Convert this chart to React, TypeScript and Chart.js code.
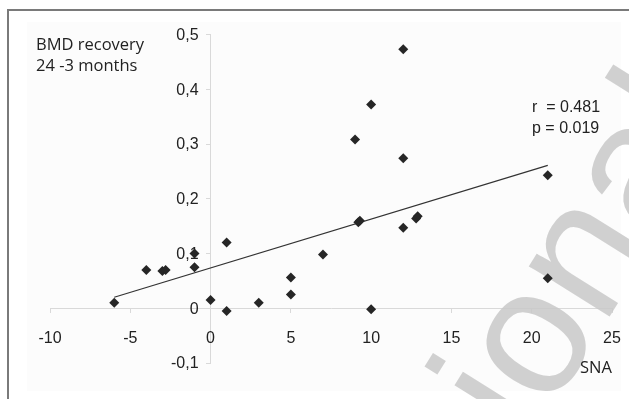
import React, { useEffect, useRef } from "react";
import { Chart, registerables } from "chart.js";

Chart.register(...registerables);

const snaValues = [-6, -4, -3, -2.8, -1, -1, 0, 1, 1, 3, 5, 5, 7, 9, 9.2, 9.3, 10, 10, 12, 12, 12, 12.8, 12.9, 21, 21];
const bmdValues = [0.01, 0.07, 0.068, 0.07, 0.1, 0.075, 0.015, -0.005, 0.12, 0.01, 0.056, 0.025, 0.098, 0.308, 0.157, 0.16, 0.372, -0.002, 0.473, 0.274, 0.147, 0.164, 0.168, 0.243, 0.055];
const trendX = [-6, 21];
const trendY = [0.02, 0.261];
const yTitleLines = ["BMD recovery", "24 -3 months"];
const xTitle = "SNA";
const statLines = ["r  = 0.481", "p = 0.019"];
const watermarkText = "Provisional";

const fmtY = (v: number) => (Math.abs(v) < 1e-9 ? "0" : Number(v).toFixed(1).replace(".", ","));
const fmtX = (v: number) => String(Math.round(v));

const decorPlugin = {
  id: "decor",
  beforeDraw(chart: any) {
    const ctx = chart.ctx;
    ctx.save();
    ctx.fillStyle = "#ffffff";
    ctx.fillRect(0, 0, chart.width, chart.height);
    ctx.fillStyle = "#fcfcfc";
    ctx.fillRect(27, 22, 594, 369);
    ctx.strokeStyle = "#7a7a7a";
    ctx.lineWidth = 2;
    ctx.beginPath();
    ctx.moveTo(8, chart.height);
    ctx.lineTo(8, 10);
    ctx.lineTo(chart.width, 10);
    ctx.stroke();
    ctx.restore();
  },
  beforeDatasetsDraw(chart: any) {
    const ctx = chart.ctx;
    const xs = chart.scales.x;
    const ys = chart.scales.y;
    const axisX = xs.getPixelForValue(0);
    const axisY = ys.getPixelForValue(0);
    ctx.save();
    ctx.fillStyle = "#222222";
    ctx.font = "16px 'Liberation Sans'";
    ctx.textAlign = "right";
    ctx.textBaseline = "middle";
    ys.ticks.forEach((t: any) => {
      ctx.fillText(fmtY(t.value), axisX - 12, ys.getPixelForValue(t.value) + 1);
    });
    ctx.textAlign = "center";
    xs.ticks.forEach((t: any) => {
      ctx.fillText(fmtX(t.value), xs.getPixelForValue(t.value), axisY + 30);
    });
    ctx.restore();

    // watermark
    ctx.save();
    const F = 180;
    ctx.font = `${F}px 'Liberation Sans'`;
    ctx.fillStyle = "rgba(200,200,200,0.85)";
    ctx.textAlign = "left";
    ctx.textBaseline = "alphabetic";
    ctx.translate(437, 365);
    ctx.rotate((-58 * Math.PI) / 180);
    const pre = ctx.measureText("Provis").width;
    ctx.fillText(watermarkText, -pre - 0.111 * F, 0.67 * F);
    ctx.restore();
  },
  afterDraw(chart: any) {
    const ctx = chart.ctx;
    ctx.save();
    ctx.fillStyle = "#222222";
    ctx.textBaseline = "alphabetic";
    ctx.textAlign = "left";
    ctx.font = "16.5px 'Open Sans'";
    ctx.fillText(yTitleLines[0], 36, 50);
    ctx.fillText(yTitleLines[1], 36, 71);
    ctx.fillText(xTitle, 580, 373);
    ctx.font = "16px 'Liberation Sans'";
    ctx.fillText(statLines[0], 532, 112);
    ctx.fillText(statLines[1], 532, 133);
    ctx.restore();
  },
};

export default function App() {
  const ref = useRef<HTMLCanvasElement | null>(null);
  useEffect(() => {
    if (!ref.current) return;
    const chart = new Chart(ref.current, {
      type: "scatter",
      data: {
        datasets: [
          {
            label: "points",
            data: snaValues.map((x, i) => ({ x, y: bmdValues[i] })),
            pointStyle: "rectRot",
            pointRadius: 5,
            backgroundColor: "#262626",
            borderColor: "#262626",
            borderWidth: 0,
          },
          {
            label: "trend",
            type: "line",
            data: trendX.map((x, i) => ({ x, y: trendY[i] })),
            borderColor: "#333333",
            borderWidth: 1.2,
            pointRadius: 0,
            fill: false,
          } as any,
        ],
      },
      options: {
        responsive: false,
        animation: false,
        layout: { padding: { left: 50, right: 17, top: 34.5, bottom: 36 } },
        plugins: { legend: { display: false }, tooltip: { enabled: false } },
        scales: {
          x: {
            type: "linear",
            position: { y: 0 } as any,
            min: -10,
            max: 25,
            ticks: { stepSize: 5, display: false, padding: 0 },
            grid: { drawOnChartArea: false, drawTicks: true, tickLength: 4, color: "#d9d9d9" },
            border: { display: true, color: "#d9d9d9" },
          },
          y: {
            type: "linear",
            position: { x: 0 } as any,
            min: -0.1,
            max: 0.5,
            ticks: { stepSize: 0.1, display: false, padding: 0 },
            grid: { drawOnChartArea: false, drawTicks: true, tickLength: 4, color: "#d9d9d9" },
            border: { display: true, color: "#d9d9d9" },
          },
        },
      },
      plugins: [decorPlugin],
    });
    return () => chart.destroy();
  }, []);
  return (
    <div style={{ position: "absolute", left: 0, top: 0, width: 629, height: 399 }}>
      <canvas ref={ref} width={629} height={399} />
    </div>
  );
}
